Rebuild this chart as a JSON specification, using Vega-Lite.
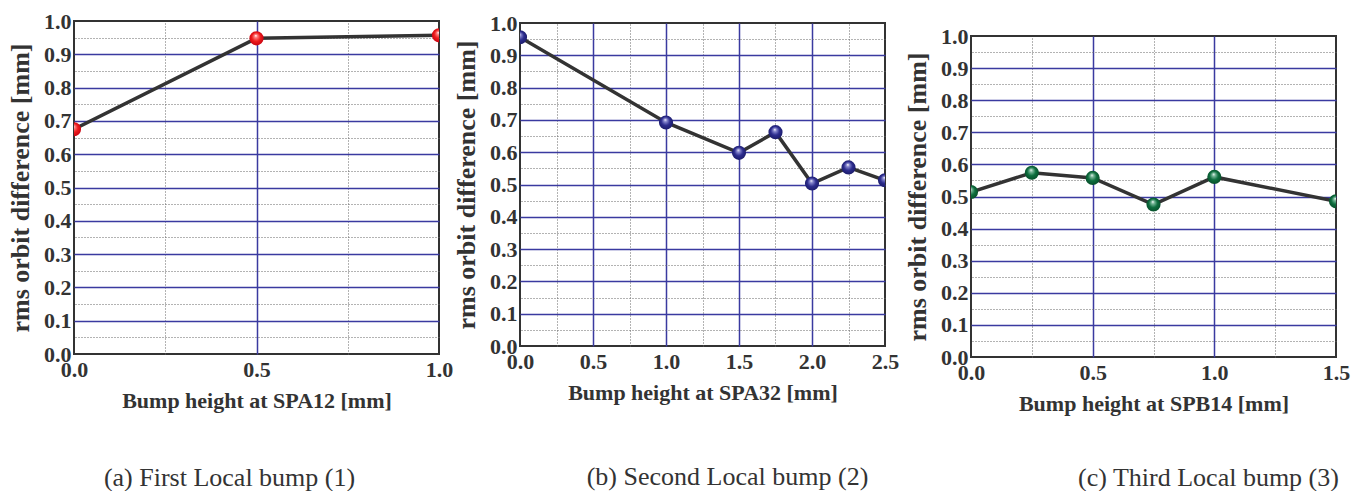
{
  "$schema": "https://vega.github.io/schema/vega-lite/v6.json",
  "padding": {"left": 6, "top": 3, "right": 0, "bottom": 0},
  "background": "white",
  "spacing": -2,
  "align": "none",
  "config": {
    "view": {"stroke": "#333333", "strokeWidth": 2},
    "axis": {
      "labelFont": "Liberation Serif", "labelFontWeight": "bold", "labelFontSize": 22, "labelColor": "#333333",
      "titleFont": "Liberation Serif", "titleFontWeight": "bold", "titleColor": "#333333",
      "labelOverlap": false, "labelFlush": false, "ticks": false, "domain": false
    },
    "axisX": {"titleFontSize": 22, "labelPadding": 5, "titlePadding": 10},
    "axisY": {"titleFontSize": 26, "labelPadding": 3, "titlePadding": 10},
    "title": {"font": "Liberation Serif", "fontWeight": "normal", "fontSize": 26, "color": "#333333", "orient": "bottom", "anchor": "middle"}
  },
  "hconcat": [
    {"spacing": 0, "vconcat": [
    {"width": 365, "height": 4, "data": {"values": [{"k": 1}]}, "mark": {"type": "point", "opacity": 0}, "encoding": {}, "view": {"stroke": null, "fill": "white"}},
    {
      "width": 365, "height": 333,
      "title": {"text": "(a) First Local bump (1)", "offset": 54, "dx": -27},
      "data": {"values": [
        {"h": 0.0, "rms": 0.675},
        {"h": 0.5, "rms": 0.948},
        {"h": 1.0, "rms": 0.957}
      ]},
      "layer": [
        {
          "mark": {"type": "line", "color": "#333333", "strokeWidth": 3.5, "clip": true},
          "encoding": {
            "x": {"field": "h", "type": "quantitative", "scale": {"domain": [0, 1], "nice": false, "zero": false},
              "axis": {"title": "Bump height at SPA12 [mm]", "values": [0, 0.5, 1], "format": ".1f", "grid": true, "gridColor": "#3a3aa0", "gridWidth": 1.5,
                "gridOpacity": {"condition": {"test": "datum.value <= 0 || datum.value >= 1", "value": 0}, "value": 1}}},
            "y": {"field": "rms", "type": "quantitative", "scale": {"domain": [0, 1], "nice": false, "zero": false},
              "axis": {"title": "rms orbit difference [mm]", "values": [0, 0.1, 0.2, 0.3, 0.4, 0.5, 0.6, 0.7, 0.8, 0.9, 1.0], "format": ".1f", "grid": true, "gridColor": "#3a3aa0", "gridWidth": 1.5,
                "gridOpacity": {"condition": {"test": "datum.value <= 0 || datum.value >= 1", "value": 0}, "value": 1}}}
          }
        },
        {
          "mark": {"type": "point", "filled": true, "size": 200, "clip": true, "opacity": 1, "strokeWidth": 0,
            "fill": {"gradient": "radial", "x1": 0.45, "y1": 0.3, "r1": 0, "x2": 0.5, "y2": 0.5, "r2": 0.55,
              "stops": [{"offset": 0, "color": "#ffffff"}, {"offset": 0.2, "color": "#ff8080"}, {"offset": 0.55, "color": "#ee1c1c"}, {"offset": 1, "color": "#c40010"}]}},
          "encoding": {
            "x": {"field": "h", "type": "quantitative",
              "axis": {"orient": "top", "values": [0.25, 0.75], "labels": false, "title": null, "grid": true, "gridColor": "#666666", "gridDash": [1, 2], "gridWidth": 1}},
            "y": {"field": "rms", "type": "quantitative",
              "axis": {"orient": "right", "values": [0.05, 0.15, 0.25, 0.35, 0.45, 0.55, 0.65, 0.75, 0.85, 0.95], "labels": false, "title": null, "grid": true, "gridColor": "#666666", "gridDash": [1, 2], "gridWidth": 1}}
          }
        }
      ],
      "resolve": {"axis": {"x": "independent", "y": "independent"}}
    }]},
    {"spacing": 0, "vconcat": [
    {"width": 365, "height": 7, "data": {"values": [{"k": 1}]}, "mark": {"type": "point", "opacity": 0}, "encoding": {}, "view": {"stroke": null, "fill": "white"}},
    {
      "width": 365, "height": 323,
      "title": {"text": "(b) Second Local bump (2)", "offset": 61, "dx": 25},
      "data": {"values": [
        {"h": 0.0, "rms": 0.956},
        {"h": 1.0, "rms": 0.692},
        {"h": 1.5, "rms": 0.598},
        {"h": 1.75, "rms": 0.662},
        {"h": 2.0, "rms": 0.503},
        {"h": 2.25, "rms": 0.553},
        {"h": 2.5, "rms": 0.513}
      ]},
      "layer": [
        {
          "mark": {"type": "line", "color": "#333333", "strokeWidth": 3.5, "clip": true},
          "encoding": {
            "x": {"field": "h", "type": "quantitative", "scale": {"domain": [0, 2.5], "nice": false, "zero": false},
              "axis": {"title": "Bump height at SPA32 [mm]", "values": [0, 0.5, 1, 1.5, 2, 2.5], "format": ".1f", "grid": true, "gridColor": "#3a3aa0", "gridWidth": 1.5,
                "gridOpacity": {"condition": {"test": "datum.value <= 0 || datum.value >= 2.5", "value": 0}, "value": 1}}},
            "y": {"field": "rms", "type": "quantitative", "scale": {"domain": [0, 1], "nice": false, "zero": false},
              "axis": {"title": "rms orbit difference [mm]", "values": [0, 0.1, 0.2, 0.3, 0.4, 0.5, 0.6, 0.7, 0.8, 0.9, 1.0], "format": ".1f", "grid": true, "gridColor": "#3a3aa0", "gridWidth": 1.5,
                "gridOpacity": {"condition": {"test": "datum.value <= 0 || datum.value >= 1", "value": 0}, "value": 1}}}
          }
        },
        {
          "mark": {"type": "point", "filled": true, "size": 200, "clip": true, "opacity": 1, "strokeWidth": 0,
            "fill": {"gradient": "radial", "x1": 0.45, "y1": 0.3, "r1": 0, "x2": 0.5, "y2": 0.5, "r2": 0.55,
              "stops": [{"offset": 0, "color": "#ffffff"}, {"offset": 0.2, "color": "#8a8ad0"}, {"offset": 0.55, "color": "#2c2c8e"}, {"offset": 1, "color": "#1a1a66"}]}},
          "encoding": {
            "x": {"field": "h", "type": "quantitative",
              "axis": {"orient": "top", "values": [0.25, 0.75, 1.25, 1.75, 2.25], "labels": false, "title": null, "grid": true, "gridColor": "#666666", "gridDash": [1, 2], "gridWidth": 1}},
            "y": {"field": "rms", "type": "quantitative",
              "axis": {"orient": "right", "values": [0.05, 0.15, 0.25, 0.35, 0.45, 0.55, 0.65, 0.75, 0.85, 0.95], "labels": false, "title": null, "grid": true, "gridColor": "#666666", "gridDash": [1, 2], "gridWidth": 1,
                "ticks": true, "tickSize": 0, "tickOpacity": 0, "minExtent": 19, "maxExtent": 19}}
          }
        }
      ],
      "resolve": {"axis": {"x": "independent", "y": "independent"}}
    }]},
    {"spacing": 0, "vconcat": [
    {"width": 365, "height": 20, "data": {"values": [{"k": 1}]}, "mark": {"type": "point", "opacity": 0}, "encoding": {}, "view": {"stroke": null, "fill": "white"}},
    {
      "width": 365, "height": 321,
      "title": {"text": "(c) Third Local bump (3)", "offset": 51, "dx": 55},
      "data": {"values": [
        {"h": 0.0, "rms": 0.514},
        {"h": 0.25, "rms": 0.574},
        {"h": 0.5, "rms": 0.558},
        {"h": 0.75, "rms": 0.475},
        {"h": 1.0, "rms": 0.561},
        {"h": 1.5, "rms": 0.485}
      ]},
      "layer": [
        {
          "mark": {"type": "line", "color": "#333333", "strokeWidth": 3.5, "clip": true},
          "encoding": {
            "x": {"field": "h", "type": "quantitative", "scale": {"domain": [0, 1.5], "nice": false, "zero": false},
              "axis": {"title": "Bump height at SPB14 [mm]", "values": [0, 0.5, 1, 1.5], "format": ".1f", "grid": true, "gridColor": "#3a3aa0", "gridWidth": 1.5,
                "gridOpacity": {"condition": {"test": "datum.value <= 0 || datum.value >= 1.5", "value": 0}, "value": 1}}},
            "y": {"field": "rms", "type": "quantitative", "scale": {"domain": [0, 1], "nice": false, "zero": false},
              "axis": {"title": "rms orbit difference [mm]", "values": [0, 0.1, 0.2, 0.3, 0.4, 0.5, 0.6, 0.7, 0.8, 0.9, 1.0], "format": ".1f", "grid": true, "gridColor": "#3a3aa0", "gridWidth": 1.5,
                "gridOpacity": {"condition": {"test": "datum.value <= 0 || datum.value >= 1", "value": 0}, "value": 1}}}
          }
        },
        {
          "mark": {"type": "point", "filled": true, "size": 200, "clip": true, "opacity": 1, "strokeWidth": 0,
            "fill": {"gradient": "radial", "x1": 0.45, "y1": 0.3, "r1": 0, "x2": 0.5, "y2": 0.5, "r2": 0.55,
              "stops": [{"offset": 0, "color": "#ffffff"}, {"offset": 0.2, "color": "#7ab89a"}, {"offset": 0.55, "color": "#0d6e3e"}, {"offset": 1, "color": "#064a28"}]}},
          "encoding": {
            "x": {"field": "h", "type": "quantitative",
              "axis": {"orient": "top", "values": [0.25, 0.75, 1.25], "labels": false, "title": null, "grid": true, "gridColor": "#666666", "gridDash": [1, 2], "gridWidth": 1}},
            "y": {"field": "rms", "type": "quantitative",
              "axis": {"orient": "right", "values": [0.05, 0.15, 0.25, 0.35, 0.45, 0.55, 0.65, 0.75, 0.85, 0.95], "labels": false, "title": null, "grid": true, "gridColor": "#666666", "gridDash": [1, 2], "gridWidth": 1}}
          }
        }
      ],
      "resolve": {"axis": {"x": "independent", "y": "independent"}}
    }]}
  ]
}
